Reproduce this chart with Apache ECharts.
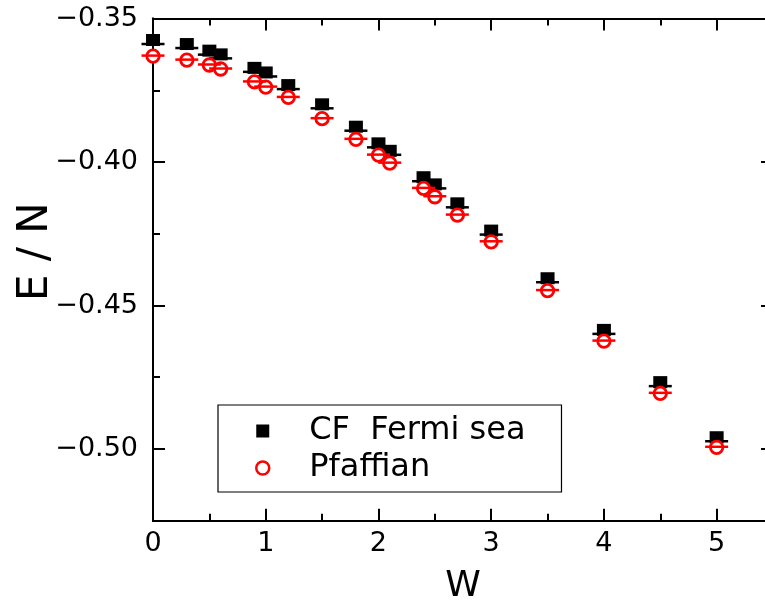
<!DOCTYPE html>
<html>
<head>
<meta charset="utf-8">
<script src="https://cdn.jsdelivr.net/npm/echarts@6/dist/echarts.min.js"></script>
<style>
html,body{margin:0;padding:0;background:#fff;overflow:hidden;}
#chart{width:765px;height:603px;}
</style>
</head>
<body>
<div id="chart"></div>
<script>
// ---- data ----
var wValues = [0, 0.3, 0.5, 0.6, 0.9, 1.0, 1.2, 1.5, 1.8, 2.0, 2.1, 2.4, 2.5, 2.7, 3.0, 3.5, 4.0, 4.5, 5.0];
var cfFermiSea = [-0.3575, -0.3589, -0.3612, -0.3625, -0.3672, -0.3688, -0.3732, -0.3799, -0.3877, -0.3935, -0.3961, -0.4053, -0.4078, -0.4144, -0.4239, -0.4405, -0.4585, -0.4767, -0.4959];
var pfaffian = [-0.3631, -0.3645, -0.3662, -0.3676, -0.3721, -0.3739, -0.3775, -0.3849, -0.3921, -0.3976, -0.4004, -0.4092, -0.4121, -0.4185, -0.4278, -0.4448, -0.4624, -0.4806, -0.4994];
var seriesNames = ['CF  Fermi sea', 'Pfaffian'];
var xTickLabels = [0, 1, 2, 3, 4, 5];
var xMinorTicks = [0.5, 1.5, 2.5, 3.5, 4.5, 5.5];
var yTickLabels = [-0.50, -0.45, -0.40, -0.35];
var yMinorTicks = [-0.525, -0.475, -0.425, -0.375];
var xRange = [0, 5.5];
var yRange = [-0.525, -0.35];

// ---- build ----
var FONT = 'DejaVu Sans';
function pairs(xs, ys) { return xs.map(function (x, i) { return [x, ys[i]]; }); }
function fmtY(v) { return (v < 0 ? '\u2212' : '') + Math.abs(v).toFixed(2); }

function xAxisDef(pos, ticks, len, showLabel, showName) {
  var a = {
    type: 'value', position: pos, min: xRange[0], max: xRange[1],
    splitLine: { show: false },
    axisLine: { show: true, onZero: false, lineStyle: { color: '#000', width: 2 } },
    axisTick: { show: true, inside: true, length: len, customValues: ticks, lineStyle: { color: '#000', width: 2 } },
    axisLabel: { show: showLabel, customValues: xTickLabels, margin: 10, color: '#000', fontFamily: FONT, fontSize: 27 }
  };
  if (showName) {
    a.name = 'W'; a.nameLocation = 'middle'; a.nameGap = 48; a.nameMoveOverlap = false;
    a.nameTextStyle = { color: '#000', fontFamily: FONT, fontSize: 36 };
  }
  return a;
}
function yAxisDef(pos, ticks, len, showLabel, showName) {
  var a = {
    type: 'value', position: pos, min: yRange[0], max: yRange[1],
    splitLine: { show: false },
    axisLine: { show: true, onZero: false, lineStyle: { color: '#000', width: 2 } },
    axisTick: { show: true, inside: true, length: len, customValues: ticks, lineStyle: { color: '#000', width: 2 } },
    axisLabel: { show: showLabel, customValues: yTickLabels, margin: 15, color: '#000', fontFamily: FONT, fontSize: 27, formatter: fmtY }
  };
  if (showName) {
    a.name = 'E / N'; a.nameLocation = 'middle'; a.nameGap = 96; a.nameRotate = 90; a.nameMoveOverlap = false;
    a.nameTextStyle = { color: '#000', fontFamily: FONT, fontSize: 42, padding: [0, 0, 0, 36] };
  }
  return a;
}

var option = {
  backgroundColor: '#fff',
  animation: false,
  grid: { left: 153, right: -8, top: 18.5, bottom: 82.25, containLabel: false, outerBoundsMode: 'none' },
  xAxis: [
    xAxisDef('bottom', xTickLabels, 12, true, true),
    xAxisDef('bottom', xMinorTicks, 7, false, false),
    xAxisDef('top', xTickLabels, 12, false, false),
    xAxisDef('top', xMinorTicks, 7, false, false)
  ],
  yAxis: [
    yAxisDef('left', yTickLabels, 12, true, true),
    yAxisDef('left', yMinorTicks, 7, false, false),
    yAxisDef('right', yTickLabels, 12, false, false),
    yAxisDef('right', yMinorTicks, 7, false, false)
  ],
  legend: {
    orient: 'vertical', left: 218, top: 405,
    padding: [10, 36, 8, 37],
    itemGap: 5, itemWidth: 13, itemHeight: 13,
    selectedMode: false,
    borderColor: '#000', borderWidth: 1.2, backgroundColor: '#fff',
    textStyle: { color: '#000', fontFamily: FONT, fontSize: 32, lineHeight: 32, padding: [0, 0, 0, 35] },
    data: [
      { name: seriesNames[0], icon: 'rect', itemStyle: { color: '#000', borderWidth: 0 } },
      { name: seriesNames[1], icon: 'circle', itemStyle: { color: '#fff', borderColor: '#ff0000', borderWidth: 2.5 } }
    ]
  },
  series: [
    {
      name: seriesNames[0], type: 'scatter', data: pairs(wValues, cfFermiSea),
      symbol: 'rect', symbolSize: [14, 12], z: 2,
      itemStyle: { color: '#000', opacity: 1 }
    },
    {
      name: 'cfBar', type: 'scatter', data: pairs(wValues, cfFermiSea),
      symbol: 'rect', symbolSize: [23, 2.5], symbolOffset: [0, 4], z: 3,
      itemStyle: { color: '#000', opacity: 1 }, silent: true
    },
    {
      name: seriesNames[1], type: 'scatter', data: pairs(wValues, pfaffian),
      symbol: 'circle', symbolSize: 12.5, z: 4,
      itemStyle: { color: '#fff', borderColor: '#ff0000', borderWidth: 2.8, opacity: 1 }
    },
    {
      name: 'pfBar', type: 'scatter', data: pairs(wValues, pfaffian),
      symbol: 'rect', symbolSize: [23, 2.5], symbolOffset: [0, -0.5], z: 5,
      itemStyle: { color: '#ff0000', opacity: 1 }, silent: true
    }
  ]
};
var chart = echarts.init(document.getElementById('chart'), null, { renderer: 'canvas' });
chart.setOption(option);
</script>
</body>
</html>
